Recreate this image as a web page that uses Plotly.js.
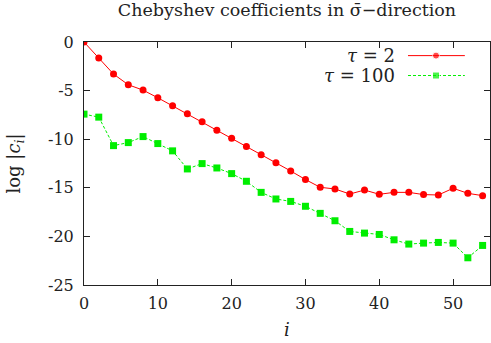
<!DOCTYPE html>
<html>
<head>
<meta charset="utf-8">
<script src="https://cdn.plot.ly/plotly-3.0.1.min.js"></script>
<style>
  html, body { margin: 0; padding: 0; background: #fff; }
  #plot { width: 491px; height: 343px; }
</style>
</head>
<body>
<div id="plot"></div>
<script>
// coefficient index
const idx = [0, 2, 4, 6, 8, 10, 12, 14, 16, 18, 20, 22, 24, 26, 28,
             30, 32, 34, 36, 38, 40, 42, 44, 46, 48, 50, 52, 54];

// log |c_i| for tau = 2
const tau2 = [0, -1.65, -3.3, -4.4, -4.95, -5.74, -6.57, -7.39, -8.2, -9.07, -9.9, -10.76, -11.59, -12.41, -13.27,
              -14.15, -14.95, -15.12, -15.64, -15.23, -15.67, -15.47, -15.47, -15.7, -15.74, -15.05, -15.57, -15.81];

// log |c_i| for tau = 100
const tau100 = [-7.42, -7.73, -10.66, -10.35, -9.73, -10.45, -11.2, -13.06, -12.51, -12.96, -13.54, -14.33, -15.47, -16.15, -16.4,
                -16.9, -17.63, -18.39, -19.49, -19.66, -19.8, -20.35, -20.79, -20.69, -20.62, -20.69, -22.2, -20.93];

const yTicks = [0, -5, -10, -15, -20, -25];
const yTickText = ['0', '-5', '-10', '-15', '-20', '-25'];
const xTicks = [0, 10, 20, 30, 40, 50];

const seriesNames = ['<i>τ</i> = 2', '<i>τ</i> = 100'];

const font = "'DejaVu Serif', serif";
const red = '#ff0000';
const green = '#00ee00';

const traces = [
    {
        x: idx, y: tau2, type: 'scatter', mode: 'lines+markers',
        line: {color: red, width: 1},
        marker: {color: red, symbol: 'circle', size: 7},
        showlegend: false
    },
    {
        x: idx, y: tau100, type: 'scatter', mode: 'lines+markers',
        line: {color: green, width: 1, dash: '3px,2px'},
        marker: {color: green, symbol: 'square', size: 7},
        showlegend: false
    },
    // legend samples on an overlay axis (0..1)
    {
        x: [0.798, 0.867, 0.938], y: [0.944, 0.944, 0.944], xaxis: 'x2', yaxis: 'y2',
        type: 'scatter', mode: 'lines+markers', line: {color: red, width: 1},
        marker: {color: red, symbol: 'circle', size: [0, 7, 0]}, showlegend: false, hoverinfo: 'skip'
    },
    {
        x: [0.798, 0.867, 0.938], y: [0.862, 0.862, 0.862], xaxis: 'x2', yaxis: 'y2',
        type: 'scatter', mode: 'lines+markers', line: {color: green, width: 1, dash: '3px,2px'},
        marker: {color: green, symbol: 'square', size: [0, 7, 0]}, showlegend: false, hoverinfo: 'skip'
    }
];

const axisCommon = {
    showgrid: false, zeroline: false,
    showline: true, linecolor: '#222', linewidth: 1, mirror: 'allticks',
    ticks: 'inside', ticklen: 6, tickcolor: '#222',
    tickfont: {family: font, size: 16, color: '#222'}
};

const layout = {
    width: 491, height: 343,
    margin: {l: 84, r: 1, t: 42, b: 58},
    paper_bgcolor: '#fff', plot_bgcolor: '#fff',
    font: {family: font, color: '#222'},
    title: {
        text: 'Chebyshev coefficients in σ\u0304−direction',
        font: {family: font, size: 17.5, color: '#222'},
        x: 0.5, xref: 'paper', y: 0.972, yref: 'container', yanchor: 'middle'
    },
    xaxis: Object.assign({}, axisCommon, {
        range: [0, 55], tickvals: xTicks, ticklabelstandoff: 4
    }),
    yaxis: Object.assign({}, axisCommon, {
        range: [-25, 0], tickvals: yTicks, ticktext: yTickText, ticklabelstandoff: 6
    }),
    xaxis2: {overlaying: 'x', range: [0, 1], visible: false, fixedrange: true},
    yaxis2: {overlaying: 'y', range: [0, 1], visible: false, fixedrange: true},
    annotations: [
        {text: seriesNames[0], xref: 'paper', yref: 'paper', x: 0.771, y: 0.944,
         xanchor: 'right', yanchor: 'middle', showarrow: false, font: {family: font, size: 18, color: '#222'}},
        {text: seriesNames[1], xref: 'paper', yref: 'paper', x: 0.771, y: 0.862,
         xanchor: 'right', yanchor: 'middle', showarrow: false, font: {family: font, size: 18, color: '#222'}},
        {text: 'log |<i>c<sub>i</sub></i>|', xref: 'paper', yref: 'paper', x: -0.17, y: 0.5,
         xanchor: 'center', yanchor: 'middle', textangle: -90, showarrow: false,
         font: {family: font, size: 18, color: '#222'}},
        {text: '<i>i</i>', xref: 'paper', yref: 'paper', x: 0.5, y: -0.185,
         xanchor: 'center', yanchor: 'middle', showarrow: false,
         font: {family: font, size: 18, color: '#222'}}
    ]
};

Plotly.newPlot('plot', traces, layout, {staticPlot: true});
</script>
</body>
</html>
